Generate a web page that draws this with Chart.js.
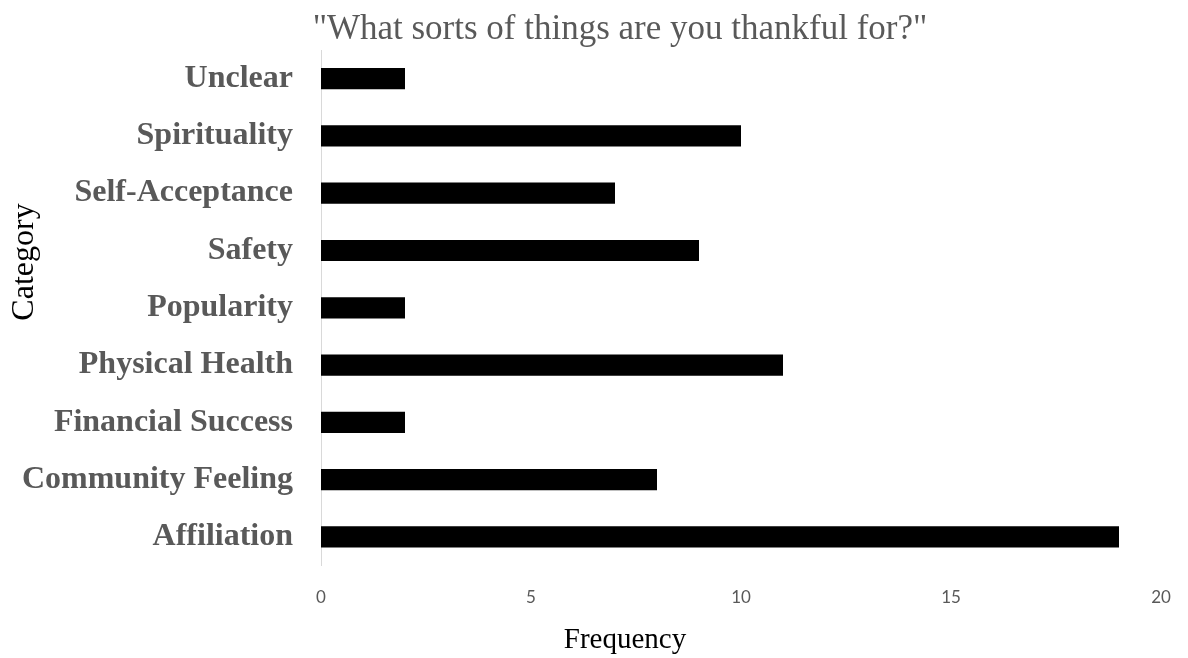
<!DOCTYPE html>
<html lang="en">
<head>
    <meta charset="UTF-8">
    <title>What sorts of things are you thankful for?</title>
    <script src="https://cdn.jsdelivr.net/npm/chart.js"></script>
    <style>
        html, body { margin: 0; padding: 0; background: #fff; }
        #wrap { width: 1188px; height: 658px; }
    </style>
</head>
<body>
    <div id="wrap"><canvas id="myChart"></canvas></div>
    <script>
        const categories = ['Unclear', 'Spirituality', 'Self-Acceptance', 'Safety', 'Popularity',
            'Physical Health', 'Financial Success', 'Community Feeling', 'Affiliation'];
        const frequency = [2, 10, 7, 9, 2, 11, 2, 8, 19];
        const xTicks = [0, 5, 10, 15, 20];

        const chartTitle = '"What sorts of things are you thankful for?"';
        const xTitle = 'Frequency';
        const yTitle = 'Category';

        const serif = '"Liberation Serif", "Times New Roman", serif';

        // Excel puts the titles off-centre, so they are drawn by hand
        const titlesPlugin = {
            id: 'titles',
            afterDraw(chart) {
                const c = chart.ctx;
                c.save();
                c.textAlign = 'center';
                c.textBaseline = 'middle';

                c.fillStyle = '#595959';
                c.font = '35px ' + serif;
                c.fillText(chartTitle, 620, 30);

                c.fillStyle = '#000';
                c.font = '29px ' + serif;
                c.fillText(xTitle, 625, 640);

                c.translate(25, 262);
                c.rotate(-Math.PI / 2);
                c.font = '32px ' + serif;
                c.fillText(yTitle, 0, 0);
                c.restore();
            }
        };

        const ctx = document.getElementById('myChart').getContext('2d');
        const myChart = new Chart(ctx, {
            type: 'bar',
            data: {
                labels: categories,
                datasets: [{
                    label: 'Frequency',
                    data: frequency,
                    backgroundColor: '#000000',
                    barPercentage: 0.74,
                    categoryPercentage: 0.5
                }]
            },
            options: {
                indexAxis: 'y',
                responsive: true,
                maintainAspectRatio: false,
                animation: false,
                layout: { padding: { top: 50, right: 27, bottom: 28, left: 0 } },
                plugins: {
                    legend: { display: false },
                    tooltip: { enabled: false },
                    title: { display: false }
                },
                scales: {
                    x: {
                        min: 0,
                        max: 20,
                        afterBuildTicks: axis => { axis.ticks = xTicks.map(v => ({ value: v })); },
                        afterFit: axis => { axis.paddingRight = 0; axis.paddingLeft = 0; },
                        grid: { display: false, drawTicks: false },
                        border: { display: false },
                        ticks: {
                            color: '#595959',
                            font: { family: 'Lato, "Open Sans", sans-serif', size: 17 },
                            padding: 22
                        }
                    },
                    y: {
                        afterFit: axis => { axis.width = 321; },
                        grid: { display: false, drawTicks: false },
                        border: { display: true, color: '#d9d9d9', width: 1 },
                        ticks: {
                            color: '#595959',
                            font: { family: serif, size: 32, weight: 'bold' },
                            padding: 28
                        }
                    }
                }
            },
            plugins: [titlesPlugin]
        });
    </script>
</body>
</html>
